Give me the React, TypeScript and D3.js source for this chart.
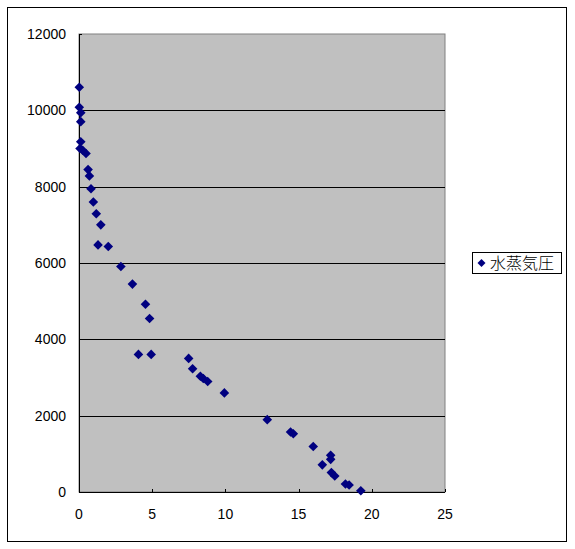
import React from "react";
import * as d3 from "d3";

const seriesName = "水蒸気圧";
const xValues = [0.02, 0.02, 0.12, 0.12, 0.12, 0.07, 0.25, 0.48, 0.62, 0.71, 0.82, 0.98, 1.18, 1.49, 1.3, 2.0, 2.86, 3.65, 4.54, 4.82, 4.06, 4.93, 7.49, 7.76, 8.29, 8.49, 8.79, 9.93, 12.86, 14.45, 14.64, 16.0, 17.19, 17.19, 16.62, 17.24, 17.47, 18.2, 18.45, 19.25];
const yValues = [10605, 10079, 9939, 9703, 9176, 9000, 8955, 8868, 8447, 8282, 7947, 7597, 7289, 7000, 6474, 6434, 5908, 5447, 4921, 4545, 3605, 3605, 3500, 3229, 3034, 2974, 2895, 2597, 1895, 1571, 1526, 1192, 961, 855, 711, 508, 421, 211, 184, 34];
const xTicks = [0, 5, 10, 15, 20, 25];
const yTicks = [0, 2000, 4000, 6000, 8000, 10000, 12000];

export default function App() {
  const W = 575, H = 549;
  const left = 79, right = 445, top = 34, bottom = 492;
  const x = d3.scaleLinear().domain([0, 25]).range([left, right]);
  const y = d3.scaleLinear().domain([0, 12000]).range([bottom, top]);
  const font = "'Liberation Sans', Arial, sans-serif";
  const diamond = (cx: number, cy: number, r: number) =>
    `M${cx},${cy - r}L${cx + r},${cy}L${cx},${cy + r}L${cx - r},${cy}Z`;
  return (
    <svg width={W} height={H} style={{ position: "absolute", left: 0, top: 0 }}>
      <rect x={0} y={0} width={W} height={H} fill="#fff" />
      <rect x={7.5} y={7.5} width={559} height={534} fill="#fff" stroke="#000" strokeWidth={1} />
      <rect x={left} y={top} width={right - left} height={bottom - top} fill="#C0C0C0" stroke="#808080" strokeWidth={1} />
      {yTicks.filter(t => t > 0 && t < 12000).map(t => (
        <line key={t} x1={left} x2={right} y1={Math.round(y(t)) + 0.5} y2={Math.round(y(t)) + 0.5} stroke="#000" strokeWidth={1} />
      ))}
      <line x1={left + 0.5} x2={left + 0.5} y1={top} y2={bottom} stroke="#000" />
      <line x1={left} x2={right} y1={bottom + 0.5} y2={bottom + 0.5} stroke="#000" />
      {xTicks.map(t => (
        <line key={t} x1={Math.round(x(t)) + 0.5} x2={Math.round(x(t)) + 0.5} y1={bottom} y2={bottom - 3} stroke="#000" />
      ))}
      {yTicks.map(t => (
        <line key={t} x1={left} x2={left + 3} y1={Math.round(y(t)) + 0.5} y2={Math.round(y(t)) + 0.5} stroke="#000" />
      ))}
      {xTicks.map(t => (
        <text key={t} x={x(t)} y={519} textAnchor="middle" fontFamily={font} fontSize={14} fill="#000">{t}</text>
      ))}
      {yTicks.map(t => (
        <text key={t} x={66} y={y(t) + 5} textAnchor="end" fontFamily={font} fontSize={14} fill="#000">{t}</text>
      ))}
      {xValues.map((v, i) => (
        <path key={i} d={diamond(x(v), y(yValues[i]), 4.8)} fill="#000080" />
      ))}
      <rect x={472.5} y={252.5} width={89} height={21} fill="#fff" stroke="#000" />
      <path d={diamond(481.5, 263, 4)} fill="#000080" />
      <text x={490} y={269} fontFamily="'Noto Sans CJK JP', sans-serif" fontSize={16} fontWeight={300} fill="#000">{seriesName}</text>
    </svg>
  );
}
